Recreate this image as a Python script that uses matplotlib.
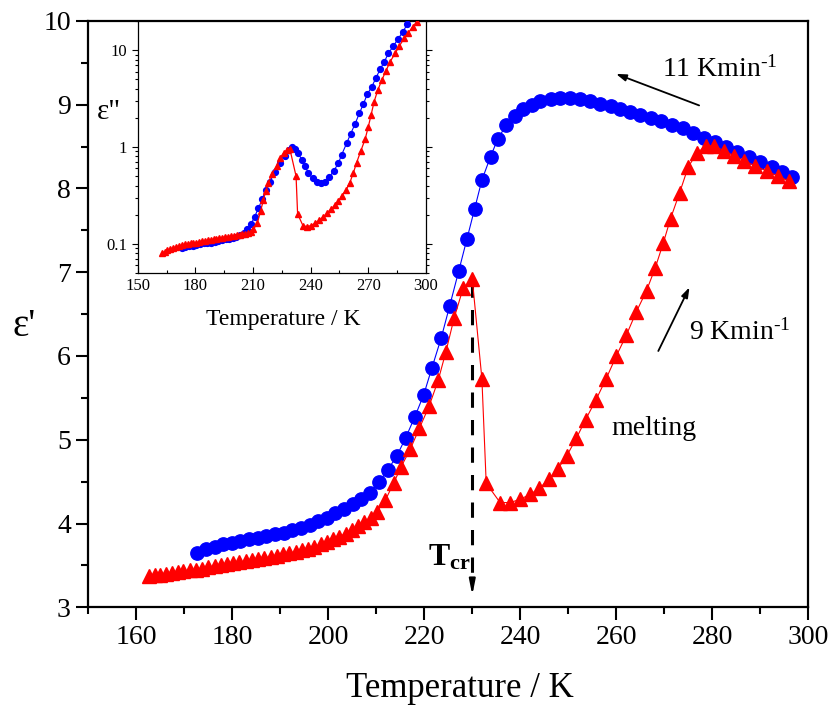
import matplotlib
matplotlib.use("Agg")
import matplotlib.pyplot as plt
from matplotlib.ticker import MultipleLocator, LogLocator, NullFormatter, FixedLocator, FixedFormatter

plt.rcParams['font.family'] = ['Liberation Serif', 'DejaVu Serif']
plt.rcParams['mathtext.fontset'] = 'custom'
plt.rcParams['mathtext.rm'] = 'Liberation Serif'
plt.rcParams['mathtext.it'] = 'Liberation Serif:italic'
plt.rcParams['mathtext.bf'] = 'Liberation Serif:bold'

# main panel: eps' on cooling (11 K/min, blue) and heating (9 K/min, red)
t_cool = [172.7, 174.5, 176.3, 178.1, 179.9, 181.7, 183.5, 185.3, 187.1, 188.9,
          190.7, 192.5, 194.3, 196.1, 197.9, 199.7, 201.5, 203.3, 205.1, 206.9,
          208.7, 210.5, 212.4, 214.3, 216.1, 218.0, 219.9, 221.6, 223.5, 225.3,
          227.2, 228.9, 230.5, 232.0, 233.8, 235.3, 237.1, 238.8, 240.6, 242.4,
          244.2, 246.3, 248.3, 250.4, 252.5, 254.6, 256.7, 258.8, 260.8, 262.9,
          265.0, 267.2, 269.4, 271.6, 273.8, 276.0, 278.2, 280.5, 282.8, 285.2,
          287.6, 290.0, 292.4, 294.6, 296.6]
e1_cool = [3.65, 3.69, 3.72, 3.75, 3.77, 3.79, 3.81, 3.83, 3.85, 3.87,
           3.89, 3.92, 3.95, 3.98, 4.03, 4.07, 4.12, 4.17, 4.23, 4.29,
           4.37, 4.49, 4.64, 4.81, 5.02, 5.27, 5.54, 5.86, 6.21, 6.60,
           7.02, 7.40, 7.76, 8.10, 8.38, 8.59, 8.76, 8.87, 8.95, 9.00,
           9.05, 9.07, 9.08, 9.08, 9.07, 9.04, 9.01, 8.99, 8.95, 8.91,
           8.88, 8.84, 8.80, 8.76, 8.72, 8.66, 8.60, 8.56, 8.50, 8.44,
           8.38, 8.32, 8.26, 8.20, 8.14]

t_heat = [162.6, 163.8, 165.0, 166.2, 167.4, 168.6, 169.8, 171.1, 172.4, 173.7,
          175.0, 176.3, 177.6, 178.9, 180.2, 181.5, 182.8, 184.1, 185.4, 186.7,
          188.0, 189.3, 190.6, 191.9, 193.2, 194.5, 195.8, 197.1, 198.4, 199.7,
          201.0, 202.3, 203.6, 204.9, 206.2, 207.5, 208.8, 210.1, 211.9, 213.6,
          215.2, 217.1, 219.0, 221.0, 222.9, 224.5, 226.2, 228.1, 230.0, 232.0,
          232.9, 235.8, 237.9, 240.0, 242.1, 244.0, 245.9, 247.8, 249.7, 251.7,
          253.6, 255.8, 257.9, 260.0, 262.1, 264.2, 266.3, 268.1, 269.8, 271.3,
          273.2, 275.0, 276.8, 278.6, 280.3, 282.5, 284.6, 286.7, 288.9, 291.3,
          293.6, 295.9]
e1_heat = [3.37, 3.38, 3.39, 3.40, 3.41, 3.42, 3.43, 3.44, 3.45, 3.46,
           3.48, 3.49, 3.50, 3.52, 3.53, 3.54, 3.55, 3.56, 3.58, 3.59,
           3.60, 3.61, 3.63, 3.65, 3.66, 3.68, 3.70, 3.72, 3.75, 3.78,
           3.81, 3.84, 3.88, 3.92, 3.97, 4.02, 4.07, 4.14, 4.28, 4.48,
           4.68, 4.89, 5.14, 5.40, 5.71, 6.05, 6.45, 6.81, 6.92, 5.73,
           4.48, 4.25, 4.25, 4.29, 4.35, 4.42, 4.53, 4.65, 4.81, 5.02,
           5.24, 5.48, 5.73, 6.00, 6.25, 6.53, 6.78, 7.05, 7.35, 7.64,
           7.95, 8.26, 8.42, 8.51, 8.51, 8.45, 8.39, 8.33, 8.27, 8.21,
           8.15, 8.09]

# inset: eps'' (log scale)
ti_cool = [172.9, 174.8, 176.7, 178.6, 180.5, 182.4, 184.3, 186.2, 188.1, 190.0,
           191.9, 193.8, 195.7, 197.6, 199.5, 201.4, 203.3, 205.2, 207.1, 209.0,
           210.8, 212.8, 214.8, 216.6, 218.8, 221.4, 224.0, 226.6, 228.5, 230.2,
           232.0, 233.6, 235.3, 237.0, 238.8, 241.0, 243.1, 245.2, 247.4, 249.7,
           252.1, 254.4, 256.1, 258.7, 260.8, 263.1, 265.3, 267.4, 269.5, 271.8,
           274.0, 276.1, 278.3, 280.4, 283.0, 285.3, 287.9, 290.3, 292.5]
e2_cool = [0.090, 0.092, 0.094, 0.096, 0.098, 0.100, 0.101, 0.102, 0.103, 0.105,
           0.107, 0.109, 0.111, 0.113, 0.115, 0.118, 0.122, 0.128, 0.142, 0.160,
           0.190, 0.233, 0.288, 0.360, 0.440, 0.557, 0.680, 0.810, 0.930, 0.990,
           0.950, 0.860, 0.740, 0.640, 0.540, 0.475, 0.435, 0.420, 0.435, 0.490,
           0.570, 0.680, 0.830, 1.09, 1.37, 1.73, 2.22, 2.77, 3.52, 4.19,
           5.18, 6.32, 7.57, 9.24, 11.0, 12.9, 15.4, 18.5, 22.0]

ti_heat = [162.5, 164.0, 165.5, 167.0, 168.5, 170.0, 171.5, 173.0, 174.5, 176.0,
           177.5, 179.0, 180.5, 182.0, 183.5, 185.0, 186.5, 188.0, 189.5, 191.0,
           192.5, 194.0, 195.5, 197.0, 198.5, 200.0, 201.5, 203.0, 204.5, 206.0,
           207.5, 209.0, 210.2, 212.2, 214.0, 215.4, 216.6, 218.0, 219.7, 222.3,
           224.0, 226.1, 227.8, 229.2, 232.4, 233.2, 236.0, 238.0, 240.0, 242.3,
           244.5, 246.6, 248.3, 250.4, 252.6, 254.4, 256.1, 258.4, 260.4, 262.2,
           263.9, 266.0, 268.3, 270.0, 271.4, 273.0, 274.9, 277.0, 279.2, 281.3,
           283.9, 286.1, 288.6, 290.8, 293.1, 295.2]
e2_heat = [0.080, 0.083, 0.086, 0.088, 0.091, 0.093, 0.095, 0.097, 0.099, 0.100,
           0.101, 0.102, 0.103, 0.104, 0.106, 0.107, 0.109, 0.110, 0.112, 0.113,
           0.115, 0.116, 0.118, 0.119, 0.120, 0.121, 0.122, 0.123, 0.125, 0.126,
           0.128, 0.132, 0.141, 0.163, 0.220, 0.284, 0.350, 0.420, 0.530, 0.630,
           0.770, 0.870, 0.930, 0.950, 0.500, 0.204, 0.154, 0.151, 0.154, 0.163,
           0.176, 0.190, 0.206, 0.227, 0.250, 0.274, 0.310, 0.360, 0.430, 0.540,
           0.690, 0.900, 1.20, 1.62, 2.13, 2.93, 3.86, 4.90, 6.13, 7.57,
           9.24, 11.0, 13.2, 15.1, 17.4, 19.6]

T_cr = 230

blue = '#0000ff'
red = '#ff0000'

fig = plt.figure(figsize=(8.32, 7.11), dpi=100)
ax = fig.add_axes([0.1061, 0.1459, 0.8654, 0.8246])

ax.plot(t_cool, e1_cool, '-', color=blue, lw=0.8, marker='o', ms=9.6,
        mec=blue, mfc=blue, zorder=3)
ax.plot(t_heat, e1_heat, '-', color=red, lw=0.8, marker='^', ms=10,
        mec=red, mfc=red, zorder=4)

ax.set_xlim(150, 300)
ax.set_ylim(3, 10)
ax.xaxis.set_major_locator(MultipleLocator(20))
ax.xaxis.set_minor_locator(MultipleLocator(10))
ax.yaxis.set_major_locator(MultipleLocator(1))
ax.yaxis.set_minor_locator(MultipleLocator(0.5))
ax.tick_params(which='both', direction='out', width=1.5, labelsize=20, top=False, right=False)
ax.tick_params(which='major', length=9)
ax.tick_params(which='minor', length=5)
for s in ax.spines.values():
    s.set_linewidth(1.6)

fig.text(0.553, 0.031, 'Temperature / K', fontsize=25, ha='center', va='center')
fig.text(0.029, 0.541, "ε'", fontsize=28, ha='center', va='center')

# T_cr marker: dashed line with arrow head
ax.plot([T_cr, T_cr], [6.88, 3.3], color='k', lw=2.2, dashes=(5, 4), zorder=2)
ax.annotate('', xy=(T_cr, 3.11), xytext=(T_cr, 3.32),
            arrowprops=dict(arrowstyle='-|>,head_width=0.18,head_length=0.9',
                            color='k', lw=1.5), zorder=2)
ax.text(220.8, 3.5, r'$\mathbf{T}_{\mathbf{cr}}$', fontsize=23, ha='left', va='baseline')

# rate arrows and labels
ax.annotate('', xy=(259.4, 9.38), xytext=(277.8, 8.98),
            arrowprops=dict(arrowstyle='-|>,head_width=0.2,head_length=0.6', color='k', lw=1.3))
ax.text(269.6, 9.33, r'11 Kmin$^{\text{-1}}$', fontsize=20, ha='left', va='baseline')
ax.annotate('', xy=(275.5, 6.85), xytext=(268.5, 6.03),
            arrowprops=dict(arrowstyle='-|>,head_width=0.2,head_length=0.6', color='k', lw=1.3))
ax.text(275.2, 6.20, r'9 Kmin$^{\text{-1}}$', fontsize=20, ha='left', va='baseline')
ax.text(259.0, 5.06, 'melting', fontsize=20, ha='left', va='baseline')

# inset
axi = fig.add_axes([0.1655, 0.616, 0.3465, 0.3545])
axi.plot(ti_cool, e2_cool, '-', color=blue, lw=0.8, marker='o', ms=4.2,
         mec=blue, mfc=blue, zorder=3)
axi.plot(ti_heat, e2_heat, '-', color=red, lw=0.9, marker='^', ms=4.5,
         mec=red, mfc=red, zorder=4)
axi.set_yscale('log')
axi.set_xlim(150, 300)
axi.set_ylim(0.05, 20)
axi.xaxis.set_major_locator(MultipleLocator(30))
axi.xaxis.set_minor_locator(MultipleLocator(15))
axi.yaxis.set_major_locator(FixedLocator([0.1, 1, 10]))
axi.yaxis.set_major_formatter(FixedFormatter(['0.1', '1', '10']))
axi.yaxis.set_minor_locator(LogLocator(base=10, subs=range(2, 10)))
axi.yaxis.set_minor_formatter(NullFormatter())
axi.tick_params(axis='x', which='both', direction='in', labelsize=12, width=0.8)
axi.tick_params(axis='y', which='both', direction='out', labelsize=12, width=0.8,
                right=True)
axi.tick_params(which='major', length=4)
axi.tick_params(which='minor', length=2)
for s in axi.spines.values():
    s.set_linewidth(0.9)
fig.text(283 / 832, 0.551, 'Temperature / K', fontsize=17, ha='center', va='center')
fig.text(0.131, 0.842, 'ε"', fontsize=21, ha='center', va='center')

fig.savefig('out.png', dpi=100)
